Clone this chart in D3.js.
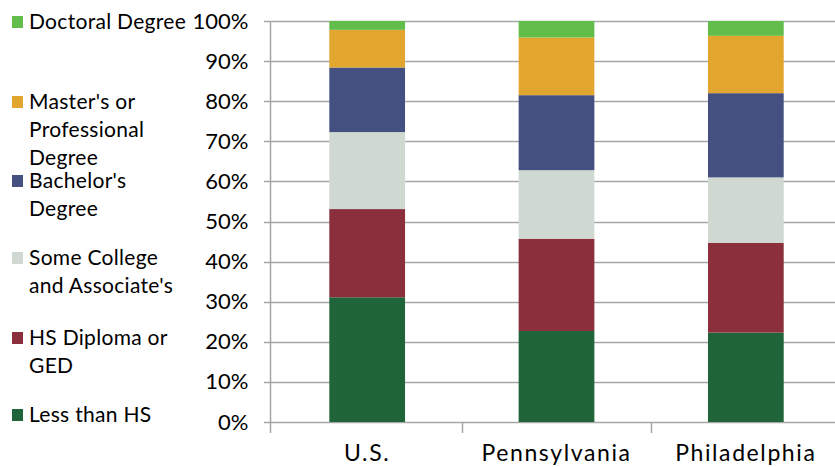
<!DOCTYPE html>
<html>
<head>
<meta charset="utf-8">
<script src="https://cdn.jsdelivr.net/npm/d3@7"></script>
<style>
  html, body { margin: 0; padding: 0; background: #fff; }
  svg { display: block; font-family: Lato, "Noto Sans", sans-serif; fill: #000; }
  .grid line { stroke: #a6a6a6; stroke-width: 1.5; }
  .axis text { fill: #000; }
</style>
</head>
<body>
<svg id="chart" width="835" height="467"></svg>
<script>
// Educational attainment shares (%).
const categories = ["U.S.", "Pennsylvania", "Philadelphia"];
const seriesKeys = ["lessThanHS", "hsDiploma", "someCollege", "bachelors", "masters", "doctoral"];
const lessThanHS = [31.1, 22.7, 22.3];
const hsDiploma = [22.0, 23.0, 22.4];
const someCollege = [19.2, 17.1, 16.3];
const bachelors = [16.1, 18.7, 21.0];
const masters = [9.4, 14.4, 14.3];
const doctoral = [2.2, 4.1, 3.7];
const yTicks = [0, 10, 20, 30, 40, 50, 60, 70, 80, 90, 100];

const seriesColors = {
  lessThanHS: "#206439",
  hsDiploma: "#8b2f3c",
  someCollege: "#d0d9d1",
  bachelors: "#435080",
  masters: "#e2a62e",
  doctoral: "#63bd4a",
};
// Legend labels, top to bottom, already wrapped like the original.
const legendLabels = [
  { key: "doctoral", lines: ["Doctoral Degree"] },
  { key: "masters", lines: ["Master's or", "Professional", "Degree"] },
  { key: "bachelors", lines: ["Bachelor's", "Degree"] },
  { key: "someCollege", lines: ["Some College", "and Associate's"] },
  { key: "hsDiploma", lines: ["HS Diploma or", "GED"] },
  { key: "lessThanHS", lines: ["Less than HS"] },
];

const values = { lessThanHS, hsDiploma, someCollege, bachelors, masters, doctoral };
const rows = categories.map((c, i) => {
  const r = { category: c };
  seriesKeys.forEach((k) => (r[k] = values[k][i]));
  return r;
});

const svg = d3.select("#chart");
const plotLeft = 270, plotTop = 21, plotBottom = 422;

const y = d3.scaleLinear().domain([0, 100]).range([plotBottom, plotTop]);
// Plot area runs past the right edge of the picture (cropped in the original).
const x = d3.scaleBand().domain(categories).range([plotLeft + 2.5, plotLeft + 2.5 + 568])
  .paddingInner(0.6).paddingOuter(0.3);

// Gridlines
svg.append("g").attr("class", "grid")
  .selectAll("line").data(yTicks).join("line")
  .attr("x1", plotLeft - 6).attr("x2", 835)
  .attr("y1", (d) => Math.round(y(d)) + 0.5).attr("y2", (d) => Math.round(y(d)) + 0.5);

// Stacked bars
const stacked = d3.stack().keys(seriesKeys)(rows);
svg.append("g").selectAll("g").data(stacked).join("g")
  .attr("fill", (s) => seriesColors[s.key])
  .selectAll("rect").data((s) => s).join("rect")
  .attr("x", (d) => x(d.data.category))
  .attr("width", x.bandwidth())
  .attr("y", (d) => y(d[1]))
  .attr("height", (d) => y(d[0]) - y(d[1]));

// Y axis
const yAxis = svg.append("g").attr("class", "axis")
  .attr("transform", `translate(${plotLeft + 0.5},0)`)
  .call(d3.axisLeft(y).tickValues(yTicks).tickFormat((d) => d + "%").tickSize(0).tickPadding(22));
yAxis.select(".domain").remove();
yAxis.selectAll("text").attr("font-size", 22).attr("font-family", "Lato, sans-serif");

// X axis with ticks between categories
const step = x.step();
const boundaries = [plotLeft].concat(d3.range(1, categories.length + 1).map((i) => x.range()[0] + i * step));
svg.append("g").selectAll("line").data(boundaries).join("line")
  .attr("x1", (d) => Math.round(d) + 0.5).attr("x2", (d) => Math.round(d) + 0.5)
  .attr("y1", plotBottom).attr("y2", plotBottom + 11)
  .attr("stroke", "#a6a6a6").attr("stroke-width", 1.5);
svg.append("line")
  .attr("x1", plotLeft + 0.5).attr("x2", plotLeft + 0.5).attr("y1", plotTop).attr("y2", plotBottom)
  .attr("stroke", "#a6a6a6").attr("stroke-width", 1.5);

// Category labels sit right at the bottom edge, like the original.
svg.append("g").selectAll("text").data(categories).join("text")
  .attr("x", (d) => x(d) + x.bandwidth() / 2)
  .attr("y", 461)
  .attr("text-anchor", "middle")
  .attr("font-size", 23)
  .attr("letter-spacing", 1.6)
  .text((d) => d);

// Legend
const legendY = { doctoral: 22, masters: 102, bachelors: 181, someCollege: 258, hsDiploma: 338, lessThanHS: 415 };
const lineH = 28;
const legend = svg.append("g");
legendLabels.forEach((item) => {
  const cy = legendY[item.key];
  legend.append("rect")
    .attr("x", 12).attr("y", cy - 6).attr("width", 11).attr("height", 12)
    .attr("fill", seriesColors[item.key]);
  legend.append("text")
    .attr("x", 29).attr("y", cy)
    .attr("font-size", 21)
    .attr("letter-spacing", 0.3)
    .selectAll("tspan").data(item.lines).join("tspan")
    .attr("x", 29).attr("dy", (d, i) => (i === 0 ? "0.35em" : lineH))
    .text((d) => d);
});
</script>
</body>
</html>
